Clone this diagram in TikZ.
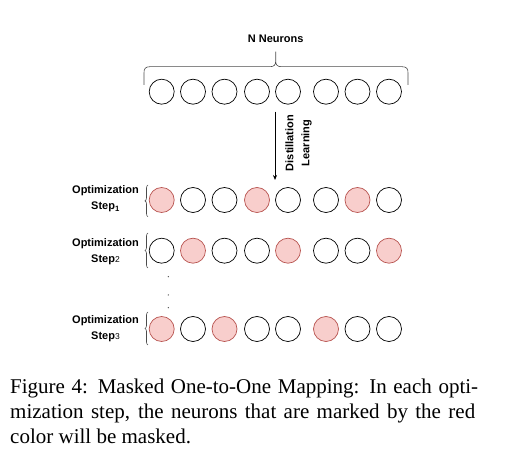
\documentclass[tikz,border=0pt]{standalone}
\usepackage{fontspec}
\setmainfont{Liberation Serif}
\newfontfamily\arialf{Liberation Sans}
\usetikzlibrary{arrows.meta,decorations.pathreplacing}
\definecolor{maskfill}{HTML}{F8CECC}
\definecolor{maskdraw}{HTML}{B85450}
\begin{document}
\begin{tikzpicture}[x=1pt,y=1pt,
  neuron/.style={circle,draw=black,line width=0.7pt,minimum size=25pt,inner sep=0pt},
  masked/.style={neuron,draw=maskdraw,fill=maskfill},
  lbl/.style={font=\arialf\bfseries\fontsize{11}{16}\selectfont,align=center,inner sep=0pt},
  rowbrace/.style={draw=black!70,line width=0.6pt,decorate,decoration={brace,amplitude=3pt,raise=0pt}},
  captxt/.style={font=\fontsize{21}{25}\selectfont,anchor=base west,inner sep=0pt}]
\useasboundingbox (0,0) rectangle (507,461);
% top row
\foreach \x [count=\i] in {161.7,193,224.5,257,288,326,357.5,389}{
  \node[neuron] (t\i) at (\x,369.3) {};
}
% top brace
\draw[black!70,line width=0.6pt] (144,376) -- (144,388) .. controls (144,392) and (145,394.3) .. (150,394.3)
  -- (270,394.3) .. controls (274,394.3) and (275.7,396) .. (275.7,400) -- (275.7,409.3)
  (275.7,400) .. controls (275.7,396) and (277.4,394.3) .. (281.4,394.3)
  -- (402,394.3) .. controls (407,394.3) and (408,392) .. (408,388) -- (408,376);
\node[lbl] (nn) at (275.7,422.7) {N Neurons};
% arrow
\coordinate (as) at (275,349.3);
\coordinate (ae) at (275,281);
\draw[line width=0.7pt,-{Stealth[length=5pt,width=4pt]}] (as) -- (ae);
\node[lbl,rotate=90] (dl) at (298.5,318) {Distillation\\Learning};
% row 1
\foreach \x/\m [count=\i] in {161.7/1,193/0,224.5/0,257/1,288/0,326/0,357.5/1,389/0}{
  \ifnum\m=1 \node[masked] (a\i) at (\x,261) {}; \else \node[neuron] (a\i) at (\x,261) {}; \fi
}
\draw[rowbrace] (148,244.3) -- (148,276);
\node[lbl] (la) at (105.5,262.3) {Optimization\\Step\textsubscript{1}};
% row 2
\foreach \x/\m [count=\i] in {161.7/0,193/1,224.5/0,257/0,288/1,326/0,357.5/0,389/1}{
  \ifnum\m=1 \node[masked] (b\i) at (\x,210.3) {}; \else \node[neuron] (b\i) at (\x,210.3) {}; \fi
}
\draw[rowbrace] (148,193) -- (148,228);
\node[lbl] (lb) at (105.5,209.5) {Optimization\\Step{\mdseries\fontsize{8.5}{8}\selectfont 2}};
% dots
\foreach \y [count=\i] in {184.3,166,153.3}{
  \fill[black!70] (168.3,\y) circle (0.7pt) coordinate (d\i);
}
% row 3
\foreach \x/\m [count=\i] in {161.7/1,193/0,224.5/1,257/0,288/0,326/1,357.5/0,389/0}{
  \ifnum\m=1 \node[masked] (c\i) at (\x,132) {}; \else \node[neuron] (c\i) at (\x,132) {}; \fi
}
\draw[rowbrace] (148,116) -- (148,149);
\node[lbl] (lc) at (105.5,132.8) {Optimization\\Step{\mdseries\fontsize{8.5}{8}\selectfont 3}};
% caption
\node[captxt] (cap1) at (10,67.7) {\makebox[468pt][s]{Figure 4: Masked One-to-One Mapping: In each opti-}};
\node[captxt] (cap2) at (10,42.7) {\makebox[465pt][s]{mization step, the neurons that are marked by the red}};
\node[captxt] (cap3) at (10,17.7) {color will be masked.};
\end{tikzpicture}
\end{document}
